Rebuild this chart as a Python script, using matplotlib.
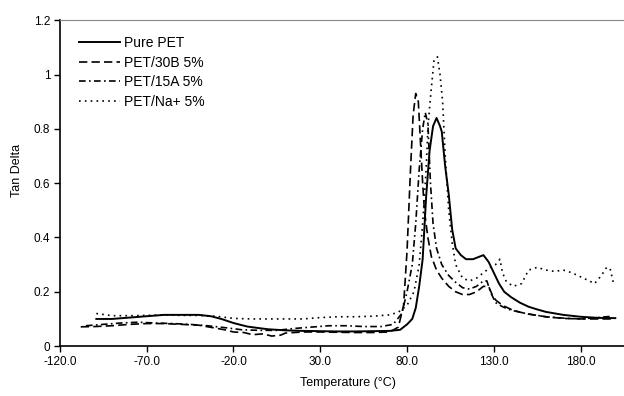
import matplotlib
matplotlib.use('Agg')
import matplotlib.pyplot as plt

plt.rcParams['font.family'] = ['Liberation Sans', 'DejaVu Sans']
plt.rcParams['font.size'] = 8

# Pure PET
t_pure = [-99, -90, -80, -70, -60, -50, -40, -33, -27, -20, -12, -5, 0, 10, 20, 30, 40, 50, 60, 70,
          76, 80, 83, 85, 87, 89, 91, 93, 95, 97, 99, 100, 102, 104, 106, 108, 111, 114, 118, 122,
          124, 127, 130, 133, 136, 140, 145, 150, 155, 160, 170, 180, 190, 200]
y_pure = [0.10, 0.10, 0.105, 0.11, 0.115, 0.115, 0.115, 0.11, 0.10, 0.085, 0.072, 0.066, 0.062, 0.058,
          0.056, 0.055, 0.054, 0.054, 0.055, 0.056, 0.06, 0.08, 0.10, 0.14, 0.22, 0.32, 0.55, 0.72,
          0.81, 0.84, 0.81, 0.79, 0.66, 0.56, 0.43, 0.36, 0.335, 0.32, 0.32, 0.33, 0.335, 0.31, 0.27,
          0.23, 0.20, 0.18, 0.16, 0.145, 0.135, 0.126, 0.115, 0.108, 0.104, 0.103]

# PET/30B 5%
t_30b = [-108, -100, -90, -80, -70, -60, -50, -40, -32, -25, -20, -14, -9, -3, 2, 7, 10, 15, 20, 30,
         40, 50, 60, 70, 75, 78, 80, 82, 83.5, 85, 86.5, 88, 89, 90, 92, 94, 97, 100, 104, 108, 112,
         116, 120, 124, 127, 129, 131, 135, 140, 145, 150, 160, 170, 180, 190, 198]
y_30b = [0.071, 0.072, 0.075, 0.08, 0.083, 0.083, 0.08, 0.077, 0.068, 0.06, 0.052, 0.05, 0.042, 0.045,
         0.037, 0.04, 0.048, 0.05, 0.052, 0.052, 0.051, 0.05, 0.05, 0.052, 0.07, 0.15, 0.35, 0.65,
         0.85, 0.93, 0.90, 0.72, 0.60, 0.50, 0.40, 0.33, 0.28, 0.25, 0.22, 0.20, 0.19, 0.19, 0.20,
         0.22, 0.22, 0.19, 0.17, 0.15, 0.135, 0.125, 0.118, 0.108, 0.102, 0.10, 0.10, 0.10]

# PET/15A 5%
t_15a = [-105, -95, -85, -75, -65, -55, -45, -35, -25, -15, -5, 5, 15, 25, 35, 45, 55, 65, 72, 77,
         80, 83, 85, 87, 89, 90.5, 92, 93.5, 95, 97, 100, 104, 108, 112, 116, 120, 124, 126, 128,
         131, 135, 140, 150, 160, 170, 180, 190, 198]
y_15a = [0.075, 0.08, 0.085, 0.088, 0.085, 0.083, 0.08, 0.075, 0.068, 0.06, 0.058, 0.058, 0.065, 0.07,
         0.075, 0.075, 0.072, 0.072, 0.08, 0.12, 0.20, 0.30, 0.45, 0.65, 0.80, 0.86, 0.82, 0.60, 0.45,
         0.36, 0.30, 0.26, 0.235, 0.215, 0.21, 0.22, 0.24, 0.24, 0.20, 0.16, 0.145, 0.132, 0.118,
         0.108, 0.103, 0.10, 0.105, 0.11]

# PET/Na+ 5%
t_na = [-99, -90, -80, -70, -60, -50, -40, -30, -20, -10, 0, 10, 20, 30, 40, 50, 60, 70, 75, 80, 84,
        87, 89, 91, 92, 93, 94, 95.5, 97.5, 99, 100.5, 102, 104, 106, 108, 112, 116, 120, 124, 128,
        131, 133.5, 135, 137, 141, 146, 150, 155, 160, 165, 170, 175, 180, 185, 188, 192, 195, 197, 199]
y_na = [0.12, 0.112, 0.112, 0.113, 0.115, 0.113, 0.113, 0.11, 0.102, 0.10, 0.10, 0.10, 0.10, 0.105,
        0.108, 0.108, 0.11, 0.115, 0.125, 0.15, 0.20, 0.30, 0.45, 0.65, 0.80, 0.88, 0.95, 1.05, 1.065,
        1.0, 0.90, 0.70, 0.50, 0.38, 0.30, 0.25, 0.24, 0.25, 0.27, 0.29, 0.30, 0.32, 0.27, 0.24, 0.22,
        0.23, 0.28, 0.29, 0.28, 0.275, 0.28, 0.27, 0.255, 0.24, 0.23, 0.26, 0.29, 0.285, 0.23]

x_ticks = [-120, -70, -20, 30, 80, 130, 180]
y_ticks = [0, 0.2, 0.4, 0.6, 0.8, 1.0, 1.2]

fig = plt.figure(figsize=(6.24, 3.96), dpi=100)
ax = fig.add_axes([0.096, 0.126, 0.904, 0.823])

ax.plot(t_pure, y_pure, color='black', lw=1.4, label='Pure PET')
ax.plot(t_30b, y_30b, color='black', lw=1.2, dashes=(5, 2.5), label='PET/30B 5%')
ax.plot(t_15a, y_15a, color='black', lw=1.2, dashes=(4, 2, 1, 2), label='PET/15A 5%')
ax.plot(t_na, y_na, color='black', lw=1.2, dashes=(1, 2.5), label='PET/Na+ 5%')

ax.set_xlim(-120, 205)
ax.set_ylim(0, 1.2)
ax.set_xticks(x_ticks)
ax.set_xticklabels([f'{v:.1f}' for v in x_ticks])
ax.set_yticks(y_ticks)
ax.set_yticklabels(['0', '0.2', '0.4', '0.6', '0.8', '1', '1.2'])
ax.tick_params(direction='out', length=4, width=1, labelsize=8.5, pad=3)

ax.spines['right'].set_visible(False)
ax.spines['top'].set_color('#888888')
ax.spines['left'].set_linewidth(1.2)
ax.spines['bottom'].set_linewidth(1.2)

ax.set_xlabel('Temperature (°C)', fontsize=9)
ax.set_ylabel('Tan Delta', fontsize=9)
ax.xaxis.set_label_coords(0.51, -0.095)
ax.yaxis.set_label_coords(-0.065, 0.54)

ax.legend(loc='upper left', frameon=False, fontsize=10, handlelength=3.0,
          handletextpad=0.3, labelspacing=0.4, borderaxespad=0.5,
          bbox_to_anchor=(0.011, 0.99))

fig.savefig('out.png', dpi=100)
